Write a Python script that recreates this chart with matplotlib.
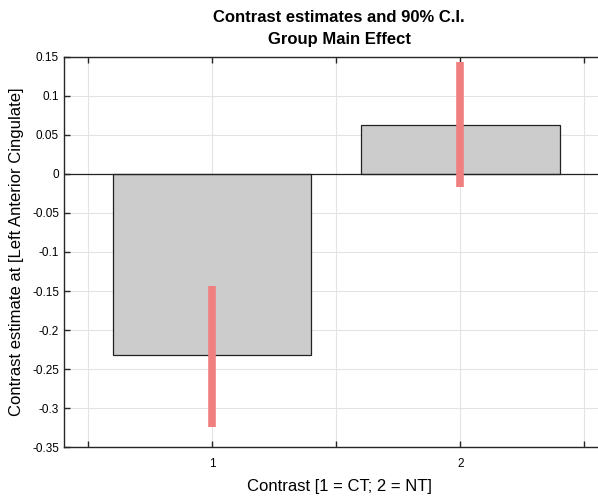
import matplotlib
matplotlib.use("Agg")
import matplotlib.pyplot as plt

contrasts = [1, 2]
estimates = [-0.232, 0.0625]
ci_low = [-0.324, -0.017]
ci_high = [-0.143, 0.143]
xtick_pos = [0.5, 1, 1.5, 2, 2.5]
xtick_labels = ["", "1", "", "2", ""]
ytick_pos = [-0.35, -0.3, -0.25, -0.2, -0.15, -0.1, -0.05, 0, 0.05, 0.1, 0.15]
ytick_labels = ["-0.35", "-0.3", "-0.25", "-0.2", "-0.15", "-0.1", "-0.05", "0", "0.05", "0.1", "0.15"]

plt.rcParams['font.family'] = ['Liberation Sans', 'DejaVu Sans']

fig = plt.figure(figsize=(5.98, 4.98), dpi=100)
# axes extends slightly beyond the right edge of the figure (cropped as in reference)
ax = fig.add_axes([0.107, 0.102, 0.92, 0.784])

ax.bar(contrasts, estimates, width=0.8, color="#cccccc", edgecolor="#222222", linewidth=0.9, zorder=2)
ax.axhline(0, color="#222222", linewidth=0.9, zorder=2.5)
for x, lo, hi in zip(contrasts, ci_low, ci_high):
    ax.plot([x, x], [lo, hi], color="#f08080", linewidth=5.5, solid_capstyle="butt", zorder=3)

ax.set_xlim(0.403, 2.62)
ax.set_ylim(-0.35, 0.15)
ax.set_xticks(xtick_pos)
ax.set_xticklabels(xtick_labels, fontsize=8.5)
ax.set_yticks(ytick_pos)
ax.set_yticklabels(ytick_labels, fontsize=8.5)
ax.grid(True, color="#e3e3e3", linewidth=0.8, zorder=0)
ax.set_axisbelow(True)
ax.tick_params(direction="in", length=4, width=1, top=True, right=False, color="#262626")
ax.tick_params(axis="x", pad=8)
for s in ax.spines.values():
    s.set_color("#262626")
    s.set_linewidth(1.0)
ax.spines["right"].set_visible(False)

ax.set_xlabel("Contrast [1 = CT; 2 = NT]", fontsize=12, labelpad=6)
ax.set_ylabel("Contrast estimate at [Left Anterior Cingulate]", fontsize=12, labelpad=6)
ax.set_title("Contrast estimates and 90% C.I.\nGroup Main Effect", fontsize=12, fontweight="bold", linespacing=1.6, pad=9)

fig.savefig("out.png", dpi=100)
